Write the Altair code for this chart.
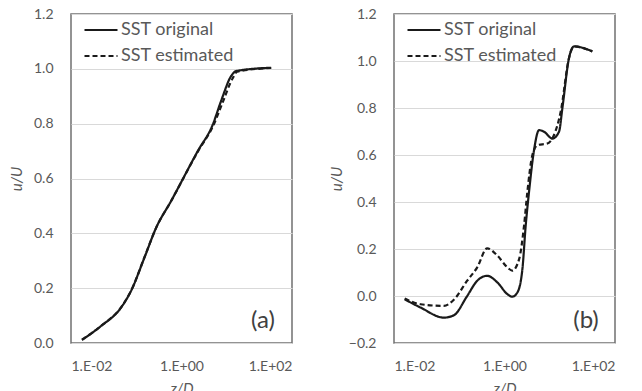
import altair as alt
import pandas as pd

series_names = ["SST original", "SST estimated"]
x_ticks = [0.01, 1, 100]
x_tick_labels = ["1.E-02", "1.E+00", "1.E+02"]
a_y_ticks = [0.0, 0.2, 0.4, 0.6, 0.8, 1.0, 1.2]
b_y_ticks = [-0.2, 0.0, 0.2, 0.4, 0.6, 0.8, 1.0, 1.2]
panel_labels = ["(a)", "(b)"]

# Panel (a)
a_orig_z = [0.0158, 0.0349, 0.0805, 0.122, 0.213, 0.347, 0.649, 1.97, 3.69, 5.21, 7.94, 9.77, 42.0]
a_orig_u = [0.011, 0.062, 0.129, 0.19, 0.311, 0.42, 0.518, 0.70, 0.797, 0.883, 0.974, 0.992, 1.004]
a_est_z = [0.0158, 0.0349, 0.0805, 0.122, 0.213, 0.347, 0.649, 2.0, 3.8, 5.5, 8.4, 10.2, 42.0]
a_est_u = [0.012, 0.062, 0.13, 0.19, 0.312, 0.42, 0.518, 0.70, 0.795, 0.875, 0.965, 0.99, 1.003]

# Panel (b)
b_orig_z = [0.0156, 0.0302, 0.080, 0.121, 0.211, 0.321, 0.486, 0.741, 1.127, 1.38, 1.71, 2.11,
            2.42, 2.77, 3.42, 4.22, 5.19, 7.35, 9.70, 11.14, 14.69, 18.11, 38.9]
b_orig_u = [-0.014, -0.049, -0.092, -0.082, 0.0, 0.065, 0.086, 0.058, 0.008, -0.003, 0.015, 0.115,
            0.30, 0.44, 0.62, 0.706, 0.699, 0.67, 0.699, 0.798, 1.012, 1.062, 1.041]
b_est_z = [0.0156, 0.0302, 0.080, 0.121, 0.211, 0.321, 0.486, 0.741, 1.127, 1.38, 1.84, 2.26,
           2.59, 3.19, 3.94, 5.97, 7.87, 10.4, 14.69, 18.11, 38.9]
b_est_u = [-0.011, -0.035, -0.042, -0.016, 0.065, 0.122, 0.203, 0.172, 0.122, 0.108, 0.157, 0.30,
           0.442, 0.599, 0.642, 0.649, 0.685, 0.784, 1.012, 1.062, 1.041]

W, H = 221, 329
GRAY = "#595959"
FONT = "Lato"

label_expr = "[" + ",".join(f"'{s}'" for s in x_tick_labels) + "][indexof([" + \
    ",".join(str(v) for v in x_ticks) + "], datum.value)]"


def panel(z1, u1, z2, u2, yticks, label, title_x):
    df = pd.DataFrame({
        "z": z1 + z2,
        "u": u1 + u2,
        "series": [series_names[0]] * len(z1) + [series_names[1]] * len(z2),
    })
    line = alt.Chart(df).mark_line(color="#1a1a1a", strokeWidth=2.2, interpolate="monotone").encode(
        x=alt.X("z:Q",
                scale=alt.Scale(type="log", domain=[x_ticks[0], x_ticks[-1]], nice=False),
                axis=alt.Axis(values=x_ticks, labelExpr=label_expr, title="z/D", grid=False,
                              ticks=False, tickSize=0, domain=False, labelPadding=16,
                              labelFontSize=14, labelColor=GRAY, labelFont=FONT,
                              titleFontSize=15, titleColor=GRAY, titleFont=FONT,
                              titleFontStyle="italic", titleFontWeight="normal",
                              titleY=45, titleBaseline="middle")),
        y=alt.Y("u:Q",
                scale=alt.Scale(domain=[yticks[0], yticks[-1]], nice=False, zero=False),
                axis=alt.Axis(values=yticks, format=".1f", title="u/U", grid=True,
                              gridColor="#d9d9d9", gridWidth=1,
                              ticks=False, tickSize=0, domain=False, labelPadding=18,
                              labelFontSize=14, labelColor=GRAY, labelFont=FONT,
                              titleFontSize=15, titleColor=GRAY, titleFont=FONT,
                              titleFontStyle="italic", titleFontWeight="normal",
                              titleX=title_x, titleY=H / 2, titleBaseline="middle")),
        strokeDash=alt.StrokeDash("series:N",
                                  scale=alt.Scale(domain=series_names, range=[[1, 0], [5, 3]]),
                                  legend=alt.Legend(orient="none", legendX=12, legendY=8,
                                                    title=None, labelFontSize=18,
                                                    labelColor=GRAY, labelFont=FONT,
                                                    symbolType="stroke", symbolSize=1089,
                                                    symbolStrokeWidth=2.2,
                                                    symbolStrokeColor="#1a1a1a",
                                                    clipHeight=16, rowPadding=8,
                                                    labelOffset=2, padding=0)),
    )
    txt = alt.Chart(pd.DataFrame({"t": [label]})).mark_text(
        fontSize=24, font=FONT, color="#404040", align="center", baseline="middle"
    ).encode(text="t:N", x=alt.value(W - 29), y=alt.value(H - 22))
    return alt.layer(line, txt).properties(width=W, height=H)


left = panel(a_orig_z, a_orig_u, a_est_z, a_est_u, a_y_ticks, panel_labels[0], -55)
right = panel(b_orig_z, b_orig_u, b_est_z, b_est_u, b_y_ticks, panel_labels[1], -58)

chart = alt.hconcat(left, right, spacing=102, bounds="flush").resolve_scale(
    x="independent", y="independent", strokeDash="independent"
).resolve_legend(strokeDash="independent").configure_view(
    stroke="#707070", strokeWidth=1.5
).properties(
    padding={"left": 8, "top": 6, "right": 0, "bottom": 0},
    background="white",
)

chart.save("out.html", embed_options={"renderer": "svg", "actions": False})
